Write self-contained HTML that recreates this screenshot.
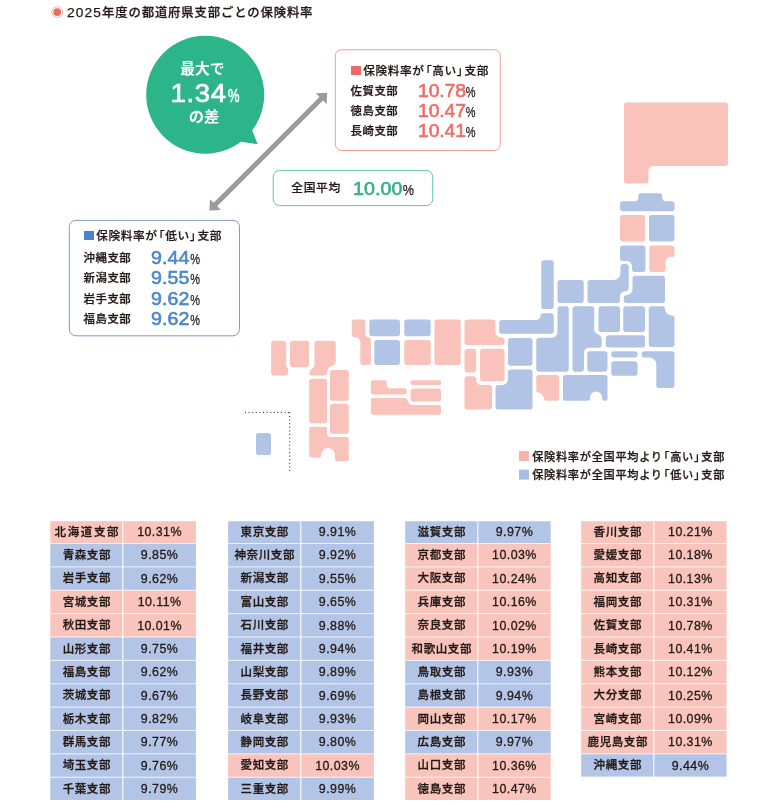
<!DOCTYPE html>
<html lang="ja">
<head>
<meta charset="utf-8">
<title>2025年度の都道府県支部ごとの保険料率</title>
<style>
*{margin:0;padding:0;box-sizing:border-box}
html,body{width:780px;height:809px;background:#fff;overflow:hidden}
body{position:relative;font-family:"Liberation Sans","Noto Sans CJK JP",sans-serif;color:#231815;font-weight:500}
.abs{position:absolute;white-space:nowrap}
#map{position:absolute;left:0;top:0;width:780px;height:809px}
.title{left:67px;top:3px;font-size:12.4px;line-height:20px;color:#231815;-webkit-text-stroke:0.25px #231815}
.td{font-size:13.7px;letter-spacing:1.15px}
.tj{margin-left:0px;letter-spacing:0.82px}
.box{position:absolute;background:#fff;border-radius:6px}
.hd{font-size:11.7px;line-height:16px;letter-spacing:0.6px;-webkit-text-stroke:0.22px #231815}
.lb{font-size:11.4px;line-height:16px;letter-spacing:0.55px;-webkit-text-stroke:0.25px #231815}
.num{font-size:18.3px;line-height:20px;font-weight:400;letter-spacing:0.1px;-webkit-text-stroke:0.6px currentColor;transform:scaleX(1.06);transform-origin:0 50%}
.pc{display:inline-block;font-size:14px;line-height:20px;font-weight:400;color:#231815;letter-spacing:0;-webkit-text-stroke:0.25px #231815;margin-left:0.3px;transform:scaleX(0.74);transform-origin:0 50%}
.c{position:absolute;height:23.4px;font-size:11.5px;line-height:23.4px;letter-spacing:0.6px;text-indent:0.6px;text-align:center;white-space:nowrap;color:#231815;font-weight:500;-webkit-text-stroke:0.28px #231815}
.c.v{font-size:12.4px;font-weight:400;letter-spacing:0.45px;text-indent:0.45px;-webkit-text-stroke:0.3px #231815}
.lg{font-size:11.2px;line-height:16px;letter-spacing:0.7px;-webkit-text-stroke:0.25px #231815}
.bl{margin-left:-0.4em}
.br{margin-right:-0.4em}
</style>
</head>
<body>
<svg id="map" viewBox="0 0 780 809">
<!-- title icon -->
<circle cx="57.2" cy="12.1" r="5.4" fill="none" stroke="#f5b5ad" stroke-width="1"/>
<circle cx="57.2" cy="12.1" r="3.9" fill="#ea6d63"/>
<!-- arrow -->
<g fill="#9b9b9b" stroke="none">
<path d="M327.20,92.80 L315.74,93.37 L319.42,97.04 L213.64,202.82 L209.97,199.14 L209.40,210.60 L220.86,210.03 L217.18,206.36 L322.96,100.58 L326.63,104.26 Z"/>
</g>
<!-- bubble -->
<circle cx="205.2" cy="94.7" r="59" fill="#2db58a"/>
<path d="M236,141 L257.7,144.2 L250.3,125.5 Z" fill="#2db58a"/>
<!-- boxes -->
<rect x="335.3" y="49.8" width="165" height="100.7" rx="6" fill="#fff" stroke="#ef9f98" stroke-width="1"/>
<rect x="273.2" y="170.4" width="159.5" height="35.2" rx="6.5" fill="#fff" stroke="#62c6a4" stroke-width="1"/>
<rect x="69.3" y="220.4" width="170.2" height="115.4" rx="6.5" fill="#fff" stroke="#8199c8" stroke-width="1"/>
<!-- map -->
<path fill="#f9c2ba" d="M624.00,105.00 C624.00,103.62 625.12,102.50 626.50,102.50 L725.50,102.50 C726.88,102.50 728.00,103.62 728.00,105.00 L728.00,163.50 C728.00,164.88 726.88,166.00 725.50,166.00 L653.50,166.00 C650.74,166.00 648.50,168.24 648.50,171.00 L648.50,181.00 C648.50,182.38 647.38,183.50 646.00,183.50 L626.50,183.50 C625.12,183.50 624.00,182.38 624.00,181.00 Z"/>
<path fill="#b2c4e6" d="M622.6,201.2 H634.5 Q638.3,201.2 638.3,197.4 V195.8 Q638.3,193.2 640.9,193.2 H659.6 Q662.2,193.2 662.2,195.8 V197.4 Q662.2,201.2 666,201.2 H671.9 Q674.5,201.2 674.5,203.8 V208.6 Q674.5,211.2 671.9,211.2 H622.6 Q620,211.2 620,208.6 V203.8 Q620,201.2 622.6,201.2 Z"/>
<path fill="#f9c2ba" d="M620.00,217.60 C620.00,216.16 621.16,215.00 622.60,215.00 L642.40,215.00 C643.84,215.00 645.00,216.16 645.00,217.60 L645.00,238.90 C645.00,240.34 643.84,241.50 642.40,241.50 L622.60,241.50 C621.16,241.50 620.00,240.34 620.00,238.90 Z"/>
<path fill="#b2c4e6" d="M649.00,217.60 C649.00,216.16 650.16,215.00 651.60,215.00 L671.90,215.00 C673.34,215.00 674.50,216.16 674.50,217.60 L674.50,238.90 C674.50,240.34 673.34,241.50 671.90,241.50 L651.60,241.50 C650.16,241.50 649.00,240.34 649.00,238.90 Z"/>
<path fill="#b2c4e6" d="M620.00,248.10 C620.00,246.66 621.16,245.50 622.60,245.50 L642.90,245.50 C644.34,245.50 645.50,246.66 645.50,248.10 L645.50,269.40 C645.50,270.84 644.34,272.00 642.90,272.00 L634.60,272.00 C633.16,272.00 632.00,270.84 632.00,269.40 L632.00,266.50 C632.00,263.46 629.54,261.00 626.50,261.00 L622.60,261.00 C621.16,261.00 620.00,259.84 620.00,258.40 Z"/>
<path fill="#f9c2ba" d="M649.25,248.10 C649.25,246.66 650.41,245.50 651.85,245.50 L671.90,245.50 C673.34,245.50 674.50,246.66 674.50,248.10 L674.50,254.40 C674.50,255.84 673.34,257.00 671.90,257.00 L670.50,257.00 C667.74,257.00 665.50,259.24 665.50,262.00 L665.50,269.40 C665.50,270.84 664.34,272.00 662.90,272.00 L651.85,272.00 C650.41,272.00 649.25,270.84 649.25,269.40 Z"/>
<path fill="#b2c4e6" d="M632.50,278.35 C632.50,276.91 633.66,275.75 635.10,275.75 L662.40,275.75 C663.84,275.75 665.00,276.91 665.00,278.35 L665.00,300.40 C665.00,301.84 663.84,303.00 662.40,303.00 L626.35,303.00 C624.91,303.00 623.75,301.84 623.75,300.40 L623.75,297.60 C623.75,296.16 624.91,295.00 626.35,295.00 L626.50,295.00 C629.81,295.00 632.50,292.31 632.50,289.00 Z"/>
<path fill="#b2c4e6" d="M587.50,282.60 C587.50,281.16 588.66,280.00 590.10,280.00 L613.50,280.00 C617.37,280.00 620.50,276.87 620.50,273.00 L620.50,266.60 C620.50,265.16 621.66,264.00 623.10,264.00 L626.15,264.00 C627.59,264.00 628.75,265.16 628.75,266.60 L628.75,288.00 C628.75,289.93 627.18,291.50 625.25,291.50 L625.00,291.50 C622.24,291.50 620.00,293.74 620.00,296.50 L620.00,300.40 C620.00,301.84 618.84,303.00 617.40,303.00 L590.10,303.00 C588.66,303.00 587.50,301.84 587.50,300.40 Z"/>
<path fill="#b2c4e6" d="M557.50,282.60 C557.50,281.16 558.66,280.00 560.10,280.00 L581.15,280.00 C582.59,280.00 583.75,281.16 583.75,282.60 L583.75,300.40 C583.75,301.84 582.59,303.00 581.15,303.00 L560.10,303.00 C558.66,303.00 557.50,301.84 557.50,300.40 Z"/>
<path fill="#b2c4e6" d="M541.25,262.85 C541.25,261.41 542.41,260.25 543.85,260.25 L551.15,260.25 C552.59,260.25 553.75,261.41 553.75,262.85 L553.75,306.40 C553.75,307.84 552.59,309.00 551.15,309.00 L543.85,309.00 C542.41,309.00 541.25,307.84 541.25,306.40 Z"/>
<path fill="#b2c4e6" d="M499.25,322.60 C499.25,321.16 500.41,320.00 501.85,320.00 L536.35,320.00 C538.64,320.00 540.50,318.14 540.50,315.85 L540.50,315.85 C540.50,314.41 541.66,313.25 543.10,313.25 L551.15,313.25 C552.59,313.25 553.75,314.41 553.75,315.85 L553.75,331.15 C553.75,332.59 552.59,333.75 551.15,333.75 L501.85,333.75 C500.41,333.75 499.25,332.59 499.25,331.15 Z"/>
<path fill="#b2c4e6" d="M557.50,308.85 C557.50,307.41 558.66,306.25 560.10,306.25 L566.15,306.25 C567.59,306.25 568.75,307.41 568.75,308.85 L568.75,369.10 C568.75,370.54 567.59,371.70 566.15,371.70 L538.85,371.70 C537.41,371.70 536.25,370.54 536.25,369.10 L536.25,340.35 C536.25,338.91 537.41,337.75 538.85,337.75 L551.50,337.75 C554.81,337.75 557.50,335.06 557.50,331.75 Z"/>
<path fill="#b2c4e6" d="M572.50,308.85 C572.50,307.41 573.66,306.25 575.10,306.25 L591.65,306.25 C593.09,306.25 594.25,307.41 594.25,308.85 L594.25,330.00 C594.25,331.10 595.02,332.46 595.96,333.03 L599.18,334.96 C600.60,335.81 601.75,337.84 601.75,339.50 L601.75,345.15 C601.75,346.59 600.59,347.75 599.15,347.75 L589.00,347.75 C586.24,347.75 584.00,349.99 584.00,352.75 L584.00,369.10 C584.00,370.54 582.84,371.70 581.40,371.70 L575.10,371.70 C573.66,371.70 572.50,370.54 572.50,369.10 Z"/>
<path fill="#b2c4e6" d="M598.50,308.85 C598.50,307.41 599.66,306.25 601.10,306.25 L617.40,306.25 C618.84,306.25 620.00,307.41 620.00,308.85 L620.00,329.40 C620.00,330.84 618.84,332.00 617.40,332.00 L601.10,332.00 C599.66,332.00 598.50,330.84 598.50,329.40 Z"/>
<path fill="#b2c4e6" d="M623.25,308.85 C623.25,307.41 624.41,306.25 625.85,306.25 L642.40,306.25 C643.84,306.25 645.00,307.41 645.00,308.85 L645.00,329.40 C645.00,330.84 643.84,332.00 642.40,332.00 L625.85,332.00 C624.41,332.00 623.25,330.84 623.25,329.40 Z"/>
<path fill="#b2c4e6" d="M648.75,308.85 C648.75,307.41 649.91,306.25 651.35,306.25 L662.80,306.25 C664.02,306.25 665.00,307.23 665.00,308.45 L665.00,308.50 C665.00,312.37 668.13,315.50 672.00,315.50 L672.00,315.50 C673.38,315.50 674.50,316.62 674.50,318.00 L674.50,344.40 C674.50,345.84 673.34,347.00 671.90,347.00 L651.35,347.00 C649.91,347.00 648.75,345.84 648.75,344.40 Z"/>
<path fill="#b2c4e6" d="M605.75,337.85 C605.75,336.41 606.91,335.25 608.35,335.25 L642.40,335.25 C643.84,335.25 645.00,336.41 645.00,337.85 L645.00,344.90 C645.00,346.34 643.84,347.50 642.40,347.50 L608.35,347.50 C606.91,347.50 605.75,346.34 605.75,344.90 Z"/>
<path fill="#b2c4e6" d="M611.25,353.85 C611.25,352.41 612.41,351.25 613.85,351.25 L634.90,351.25 C636.34,351.25 637.50,352.41 637.50,353.85 L637.50,354.90 C637.50,356.34 636.34,357.50 634.90,357.50 L613.85,357.50 C612.41,357.50 611.25,356.34 611.25,354.90 Z"/>
<path fill="#b2c4e6" d="M611.25,363.85 C611.25,362.41 612.41,361.25 613.85,361.25 L634.90,361.25 C636.34,361.25 637.50,362.41 637.50,363.85 L637.50,373.15 C637.50,374.59 636.34,375.75 634.90,375.75 L613.85,375.75 C612.41,375.75 611.25,374.59 611.25,373.15 Z"/>
<path fill="#b2c4e6" d="M587.25,353.85 C587.25,352.41 588.41,351.25 589.85,351.25 L604.90,351.25 C606.34,351.25 607.50,352.41 607.50,353.85 L607.50,369.10 C607.50,370.54 606.34,371.70 604.90,371.70 L589.85,371.70 C588.41,371.70 587.25,370.54 587.25,369.10 Z"/>
<path fill="#b2c4e6" d="M641.50,353.85 C641.50,352.41 642.66,351.25 644.10,351.25 L671.90,351.25 C673.34,351.25 674.50,352.41 674.50,353.85 L674.50,385.40 C674.50,386.84 673.34,388.00 671.90,388.00 L658.90,388.00 C657.46,388.00 656.30,386.84 656.30,385.40 L656.30,364.50 C656.30,360.63 653.17,357.50 649.30,357.50 L644.10,357.50 C642.66,357.50 641.50,356.34 641.50,354.90 Z"/>
<path fill="#b2c4e6" d="M565.6,375 H604.9 Q607.5,375 607.5,377.6 V398.2 Q607.5,400.8 604.9,400.8 H604.2 Q602.2,400.8 602.2,398.8 V397.6 A6.1,6.1 0 0 0 590,397.6 V398.8 Q590,400.8 588,400.8 H565.6 Q563,400.8 563,398.2 V377.6 Q563,375 565.6,375 Z"/>
<path fill="#f9c2ba" d="M538.85,375 H556.65 Q559.25,375 559.25,377.6 V398.2 Q559.25,400.8 556.65,400.8 H546.6 Q544.6,400.8 544.2,398.9 A8,8 0 0 0 538.1,392.6 Q536.25,392.1 536.25,390.2 V377.6 Q536.25,375 538.85,375 Z"/>
<path fill="#b2c4e6" d="M508.00,340.60 C508.00,339.16 509.16,338.00 510.60,338.00 L529.90,338.00 C531.34,338.00 532.50,339.16 532.50,340.60 L532.50,363.15 C532.50,364.59 531.34,365.75 529.90,365.75 L510.60,365.75 C509.16,365.75 508.00,364.59 508.00,363.15 Z"/>
<path fill="#b2c4e6" d="M508.00,372.10 C508.00,370.66 509.16,369.50 510.60,369.50 L529.90,369.50 C531.34,369.50 532.50,370.66 532.50,372.10 L532.50,406.90 C532.50,408.34 531.34,409.50 529.90,409.50 L498.10,409.50 C496.66,409.50 495.50,408.34 495.50,406.90 L495.50,387.60 C495.50,386.16 496.66,385.00 498.10,385.00 L502.00,385.00 C505.31,385.00 508.00,382.31 508.00,379.00 Z"/>
<path fill="#f9c2ba" d="M464.50,322.10 C464.50,320.66 465.66,319.50 467.10,319.50 L492.90,319.50 C494.34,319.50 495.50,320.66 495.50,322.10 L495.50,332.30 C495.50,335.06 497.74,337.30 500.50,337.30 L501.50,337.30 C503.16,337.30 504.50,338.64 504.50,340.30 L504.50,342.40 C504.50,343.84 503.34,345.00 501.90,345.00 L467.10,345.00 C465.66,345.00 464.50,343.84 464.50,342.40 Z"/>
<path fill="#f9c2ba" d="M434.50,322.10 C434.50,320.66 435.66,319.50 437.10,319.50 L458.15,319.50 C459.59,319.50 460.75,320.66 460.75,322.10 L460.75,362.40 C460.75,363.84 459.59,365.00 458.15,365.00 L437.10,365.00 C435.66,365.00 434.50,363.84 434.50,362.40 Z"/>
<path fill="#f9c2ba" d="M464.50,351.35 C464.50,349.91 465.66,348.75 467.10,348.75 L473.65,348.75 C475.09,348.75 476.25,349.91 476.25,351.35 L476.25,369.90 C476.25,371.34 475.09,372.50 473.65,372.50 L467.10,372.50 C465.66,372.50 464.50,371.34 464.50,369.90 Z"/>
<path fill="#f9c2ba" d="M480.00,351.35 C480.00,349.91 481.16,348.75 482.60,348.75 L501.90,348.75 C503.34,348.75 504.50,349.91 504.50,351.35 L504.50,378.65 C504.50,380.09 503.34,381.25 501.90,381.25 L482.60,381.25 C481.16,381.25 480.00,380.09 480.00,378.65 Z"/>
<path fill="#f9c2ba" d="M464.50,378.85 C464.50,377.41 465.66,376.25 467.10,376.25 L473.65,376.25 C475.09,376.25 476.25,377.41 476.25,378.85 L476.25,380.00 C476.25,382.76 478.49,385.00 481.25,385.00 L489.40,385.00 C490.84,385.00 492.00,386.16 492.00,387.60 L492.00,406.90 C492.00,408.34 490.84,409.50 489.40,409.50 L467.10,409.50 C465.66,409.50 464.50,408.34 464.50,406.90 Z"/>
<path fill="#b2c4e6" d="M404.25,322.10 C404.25,320.66 405.41,319.50 406.85,319.50 L428.15,319.50 C429.59,319.50 430.75,320.66 430.75,322.10 L430.75,333.65 C430.75,335.09 429.59,336.25 428.15,336.25 L406.85,336.25 C405.41,336.25 404.25,335.09 404.25,333.65 Z"/>
<path fill="#f9c2ba" d="M404.25,342.60 C404.25,341.16 405.41,340.00 406.85,340.00 L428.15,340.00 C429.59,340.00 430.75,341.16 430.75,342.60 L430.75,362.40 C430.75,363.84 429.59,365.00 428.15,365.00 L406.85,365.00 C405.41,365.00 404.25,363.84 404.25,362.40 Z"/>
<path fill="#b2c4e6" d="M369.25,322.10 C369.25,320.66 370.41,319.50 371.85,319.50 L397.40,319.50 C398.84,319.50 400.00,320.66 400.00,322.10 L400.00,333.65 C400.00,335.09 398.84,336.25 397.40,336.25 L371.85,336.25 C370.41,336.25 369.25,335.09 369.25,333.65 Z"/>
<path fill="#b2c4e6" d="M374.25,342.60 C374.25,341.16 375.41,340.00 376.85,340.00 L397.40,340.00 C398.84,340.00 400.00,341.16 400.00,342.60 L400.00,362.40 C400.00,363.84 398.84,365.00 397.40,365.00 L376.85,365.00 C375.41,365.00 374.25,363.84 374.25,362.40 Z"/>
<path fill="#f9c2ba" d="M351.75,322.10 C351.75,320.66 352.91,319.50 354.35,319.50 L362.70,319.50 C364.14,319.50 365.30,320.66 365.30,322.10 L365.30,334.25 C365.30,335.77 366.53,337.00 368.05,337.00 L368.05,337.00 C369.57,337.00 370.80,338.23 370.80,339.75 L370.80,362.40 C370.80,363.84 369.64,365.00 368.20,365.00 L362.90,365.00 C361.46,365.00 360.30,363.84 360.30,362.40 L360.30,341.80 C360.30,339.31 358.29,337.30 355.80,337.30 L355.25,337.30 C353.32,337.30 351.75,335.73 351.75,333.80 Z"/>
<path fill="#f9c2ba" d="M371.00,382.20 C371.00,381.10 371.90,380.20 373.00,380.20 L384.70,380.20 C385.80,380.20 386.70,381.10 386.70,382.20 L386.70,384.70 C386.70,386.63 388.27,388.20 390.20,388.20 L404.80,388.20 C405.90,388.20 406.80,389.10 406.80,390.20 L406.80,392.50 C406.80,393.60 405.90,394.50 404.80,394.50 L373.00,394.50 C371.90,394.50 371.00,393.60 371.00,392.50 Z"/>
<path fill="#f9c2ba" d="M410.60,382.00 C410.60,381.01 411.41,380.20 412.40,380.20 L439.20,380.20 C440.19,380.20 441.00,381.01 441.00,382.00 L441.00,383.20 C441.00,384.19 440.19,385.00 439.20,385.00 L412.40,385.00 C411.41,385.00 410.60,384.19 410.60,383.20 Z"/>
<path fill="#f9c2ba" d="M410.60,391.20 C410.60,389.76 411.76,388.60 413.20,388.60 L438.40,388.60 C439.84,388.60 441.00,389.76 441.00,391.20 L441.00,399.00 C441.00,400.44 439.84,401.60 438.40,401.60 L413.20,401.60 C411.76,401.60 410.60,400.44 410.60,399.00 Z"/>
<path fill="#f9c2ba" d="M371.00,400.10 C371.00,399.00 371.90,398.10 373.00,398.10 L404.40,398.10 C405.50,398.10 406.81,398.90 407.31,399.88 L409.09,403.32 C409.59,404.30 410.90,405.10 412.00,405.10 L439.00,405.10 C440.10,405.10 441.00,406.00 441.00,407.10 L441.00,412.70 C441.00,413.80 440.10,414.70 439.00,414.70 L373.00,414.70 C371.90,414.70 371.00,413.80 371.00,412.70 Z"/>
<path fill="#f9c2ba" d="M271.20,343.35 C271.20,341.91 272.36,340.75 273.80,340.75 L283.60,340.75 C285.04,340.75 286.20,341.91 286.20,343.35 L286.20,365.09 C286.20,365.87 286.65,366.95 287.20,367.50 L287.20,367.50 C287.75,368.05 288.20,369.13 288.20,369.91 L288.20,373.00 C288.20,374.44 287.04,375.60 285.60,375.60 L273.80,375.60 C272.36,375.60 271.20,374.44 271.20,373.00 Z"/>
<path fill="#f9c2ba" d="M289.90,343.35 C289.90,341.91 291.06,340.75 292.50,340.75 L306.50,340.75 C307.94,340.75 309.10,341.91 309.10,343.35 L309.10,364.60 C309.10,366.04 307.94,367.20 306.50,367.20 L292.50,367.20 C291.06,367.20 289.90,366.04 289.90,364.60 Z"/>
<path fill="#f9c2ba" d="M314.50,342.95 C314.50,341.73 315.48,340.75 316.70,340.75 L333.55,340.75 C334.77,340.75 335.75,341.73 335.75,342.95 L335.75,361.80 C335.75,363.02 334.87,364.45 333.80,365.01 L329.95,366.99 C328.88,367.55 327.81,368.97 327.57,370.16 L326.93,373.34 C326.69,374.53 325.52,375.50 324.30,375.50 L311.45,375.50 C310.23,375.50 309.25,374.52 309.25,373.30 L309.25,373.20 C309.25,371.98 310.03,370.40 311.00,369.67 L312.75,368.33 C313.72,367.60 314.50,366.02 314.50,364.80 Z"/>
<path fill="#f9c2ba" d="M330.00,372.60 C330.00,371.16 331.16,370.00 332.60,370.00 L346.15,370.00 C347.59,370.00 348.75,371.16 348.75,372.60 L348.75,398.15 C348.75,399.59 347.59,400.75 346.15,400.75 L332.60,400.75 C331.16,400.75 330.00,399.59 330.00,398.15 Z"/>
<path fill="#f9c2ba" d="M309.25,381.35 C309.25,379.91 310.41,378.75 311.85,378.75 L324.40,378.75 C325.84,378.75 327.00,379.91 327.00,381.35 L327.00,420.65 C327.00,422.09 325.84,423.25 324.40,423.25 L311.85,423.25 C310.41,423.25 309.25,422.09 309.25,420.65 Z"/>
<path fill="#f9c2ba" d="M330.00,406.35 C330.00,404.91 331.16,403.75 332.60,403.75 L346.15,403.75 C347.59,403.75 348.75,404.91 348.75,406.35 L348.75,431.15 C348.75,432.59 347.59,433.75 346.15,433.75 L332.60,433.75 C331.16,433.75 330.00,432.59 330.00,431.15 Z"/>
<path fill="#f9c2ba" d="M311.25,426.75 H325 Q327,426.75 327,428.75 V433 Q327,437 331,437 H346.75 Q348.75,437 348.75,439 V459.25 Q348.75,461.25 346.75,461.25 H337 Q335,461.25 335,459.25 V454.4 A6.9,6.9 0 0 0 321.25,454.4 V455.5 Q321.25,457.5 319.25,457.5 H311.25 Q309.25,457.5 309.25,455.5 V428.75 Q309.25,426.75 311.25,426.75 Z"/>
<path fill="#b2c4e6" d="M256.00,435.60 C256.00,434.16 257.16,433.00 258.60,433.00 L268.40,433.00 C269.84,433.00 271.00,434.16 271.00,435.60 L271.00,452.40 C271.00,453.84 269.84,455.00 268.40,455.00 L258.60,455.00 C257.16,455.00 256.00,453.84 256.00,452.40 Z"/>
<!-- dotted -->
<line x1="245" y1="412.4" x2="290" y2="412.4" stroke="#231815" stroke-width="1" stroke-dasharray="1 2.6"/>
<line x1="289.7" y1="412.4" x2="289.7" y2="472" stroke="#231815" stroke-width="1" stroke-dasharray="1 2.6"/>
<!-- tables -->
<rect x="50.30" y="521.25" width="145.60" height="22.57" fill="#f9c4bb"/>
<rect x="50.30" y="543.52" width="145.60" height="23.67" fill="#b3c5e6"/>
<rect x="50.30" y="566.89" width="145.60" height="23.67" fill="#b3c5e6"/>
<rect x="50.30" y="590.26" width="145.60" height="23.67" fill="#f9c4bb"/>
<rect x="50.30" y="613.63" width="145.60" height="23.67" fill="#f9c4bb"/>
<rect x="50.30" y="637.00" width="145.60" height="23.67" fill="#b3c5e6"/>
<rect x="50.30" y="660.37" width="145.60" height="23.67" fill="#b3c5e6"/>
<rect x="50.30" y="683.74" width="145.60" height="23.67" fill="#b3c5e6"/>
<rect x="50.30" y="707.11" width="145.60" height="23.67" fill="#b3c5e6"/>
<rect x="50.30" y="730.48" width="145.60" height="23.67" fill="#b3c5e6"/>
<rect x="50.30" y="753.85" width="145.60" height="23.67" fill="#b3c5e6"/>
<rect x="50.30" y="777.22" width="145.60" height="22.77" fill="#b3c5e6"/>
<line x1="50.30" y1="543.52" x2="195.90" y2="543.52" stroke="#fff" stroke-width="1.0" stroke-opacity="0.8"/>
<line x1="50.30" y1="566.89" x2="195.90" y2="566.89" stroke="#fff" stroke-width="1.0" stroke-opacity="0.8"/>
<line x1="50.30" y1="590.26" x2="195.90" y2="590.26" stroke="#fff" stroke-width="1.0" stroke-opacity="0.8"/>
<line x1="50.30" y1="613.63" x2="195.90" y2="613.63" stroke="#fff" stroke-width="1.0" stroke-opacity="0.8"/>
<line x1="50.30" y1="637.00" x2="195.90" y2="637.00" stroke="#fff" stroke-width="1.0" stroke-opacity="0.8"/>
<line x1="50.30" y1="660.37" x2="195.90" y2="660.37" stroke="#fff" stroke-width="1.0" stroke-opacity="0.8"/>
<line x1="50.30" y1="683.74" x2="195.90" y2="683.74" stroke="#fff" stroke-width="1.0" stroke-opacity="0.8"/>
<line x1="50.30" y1="707.11" x2="195.90" y2="707.11" stroke="#fff" stroke-width="1.0" stroke-opacity="0.8"/>
<line x1="50.30" y1="730.48" x2="195.90" y2="730.48" stroke="#fff" stroke-width="1.0" stroke-opacity="0.8"/>
<line x1="50.30" y1="753.85" x2="195.90" y2="753.85" stroke="#fff" stroke-width="1.0" stroke-opacity="0.8"/>
<line x1="50.30" y1="777.22" x2="195.90" y2="777.22" stroke="#fff" stroke-width="1.0" stroke-opacity="0.8"/>
<line x1="122.80" y1="520.15" x2="122.80" y2="800.59" stroke="#fff" stroke-width="1.3" stroke-opacity="0.85"/>
<rect x="228.10" y="521.25" width="145.80" height="22.57" fill="#b3c5e6"/>
<rect x="228.10" y="543.52" width="145.80" height="23.67" fill="#b3c5e6"/>
<rect x="228.10" y="566.89" width="145.80" height="23.67" fill="#b3c5e6"/>
<rect x="228.10" y="590.26" width="145.80" height="23.67" fill="#b3c5e6"/>
<rect x="228.10" y="613.63" width="145.80" height="23.67" fill="#b3c5e6"/>
<rect x="228.10" y="637.00" width="145.80" height="23.67" fill="#b3c5e6"/>
<rect x="228.10" y="660.37" width="145.80" height="23.67" fill="#b3c5e6"/>
<rect x="228.10" y="683.74" width="145.80" height="23.67" fill="#b3c5e6"/>
<rect x="228.10" y="707.11" width="145.80" height="23.67" fill="#b3c5e6"/>
<rect x="228.10" y="730.48" width="145.80" height="23.67" fill="#b3c5e6"/>
<rect x="228.10" y="753.85" width="145.80" height="23.67" fill="#f9c4bb"/>
<rect x="228.10" y="777.22" width="145.80" height="22.77" fill="#b3c5e6"/>
<line x1="228.10" y1="543.52" x2="373.90" y2="543.52" stroke="#fff" stroke-width="1.0" stroke-opacity="0.8"/>
<line x1="228.10" y1="566.89" x2="373.90" y2="566.89" stroke="#fff" stroke-width="1.0" stroke-opacity="0.8"/>
<line x1="228.10" y1="590.26" x2="373.90" y2="590.26" stroke="#fff" stroke-width="1.0" stroke-opacity="0.8"/>
<line x1="228.10" y1="613.63" x2="373.90" y2="613.63" stroke="#fff" stroke-width="1.0" stroke-opacity="0.8"/>
<line x1="228.10" y1="637.00" x2="373.90" y2="637.00" stroke="#fff" stroke-width="1.0" stroke-opacity="0.8"/>
<line x1="228.10" y1="660.37" x2="373.90" y2="660.37" stroke="#fff" stroke-width="1.0" stroke-opacity="0.8"/>
<line x1="228.10" y1="683.74" x2="373.90" y2="683.74" stroke="#fff" stroke-width="1.0" stroke-opacity="0.8"/>
<line x1="228.10" y1="707.11" x2="373.90" y2="707.11" stroke="#fff" stroke-width="1.0" stroke-opacity="0.8"/>
<line x1="228.10" y1="730.48" x2="373.90" y2="730.48" stroke="#fff" stroke-width="1.0" stroke-opacity="0.8"/>
<line x1="228.10" y1="753.85" x2="373.90" y2="753.85" stroke="#fff" stroke-width="1.0" stroke-opacity="0.8"/>
<line x1="228.10" y1="777.22" x2="373.90" y2="777.22" stroke="#fff" stroke-width="1.0" stroke-opacity="0.8"/>
<line x1="300.80" y1="520.15" x2="300.80" y2="800.59" stroke="#fff" stroke-width="1.3" stroke-opacity="0.85"/>
<rect x="405.20" y="521.25" width="145.50" height="22.57" fill="#b3c5e6"/>
<rect x="405.20" y="543.52" width="145.50" height="23.67" fill="#f9c4bb"/>
<rect x="405.20" y="566.89" width="145.50" height="23.67" fill="#f9c4bb"/>
<rect x="405.20" y="590.26" width="145.50" height="23.67" fill="#f9c4bb"/>
<rect x="405.20" y="613.63" width="145.50" height="23.67" fill="#f9c4bb"/>
<rect x="405.20" y="637.00" width="145.50" height="23.67" fill="#f9c4bb"/>
<rect x="405.20" y="660.37" width="145.50" height="23.67" fill="#b3c5e6"/>
<rect x="405.20" y="683.74" width="145.50" height="23.67" fill="#b3c5e6"/>
<rect x="405.20" y="707.11" width="145.50" height="23.67" fill="#f9c4bb"/>
<rect x="405.20" y="730.48" width="145.50" height="23.67" fill="#b3c5e6"/>
<rect x="405.20" y="753.85" width="145.50" height="23.67" fill="#f9c4bb"/>
<rect x="405.20" y="777.22" width="145.50" height="22.77" fill="#f9c4bb"/>
<line x1="405.20" y1="543.52" x2="550.70" y2="543.52" stroke="#fff" stroke-width="1.0" stroke-opacity="0.8"/>
<line x1="405.20" y1="566.89" x2="550.70" y2="566.89" stroke="#fff" stroke-width="1.0" stroke-opacity="0.8"/>
<line x1="405.20" y1="590.26" x2="550.70" y2="590.26" stroke="#fff" stroke-width="1.0" stroke-opacity="0.8"/>
<line x1="405.20" y1="613.63" x2="550.70" y2="613.63" stroke="#fff" stroke-width="1.0" stroke-opacity="0.8"/>
<line x1="405.20" y1="637.00" x2="550.70" y2="637.00" stroke="#fff" stroke-width="1.0" stroke-opacity="0.8"/>
<line x1="405.20" y1="660.37" x2="550.70" y2="660.37" stroke="#fff" stroke-width="1.0" stroke-opacity="0.8"/>
<line x1="405.20" y1="683.74" x2="550.70" y2="683.74" stroke="#fff" stroke-width="1.0" stroke-opacity="0.8"/>
<line x1="405.20" y1="707.11" x2="550.70" y2="707.11" stroke="#fff" stroke-width="1.0" stroke-opacity="0.8"/>
<line x1="405.20" y1="730.48" x2="550.70" y2="730.48" stroke="#fff" stroke-width="1.0" stroke-opacity="0.8"/>
<line x1="405.20" y1="753.85" x2="550.70" y2="753.85" stroke="#fff" stroke-width="1.0" stroke-opacity="0.8"/>
<line x1="405.20" y1="777.22" x2="550.70" y2="777.22" stroke="#fff" stroke-width="1.0" stroke-opacity="0.8"/>
<line x1="477.80" y1="520.15" x2="477.80" y2="800.59" stroke="#fff" stroke-width="1.3" stroke-opacity="0.85"/>
<rect x="581.20" y="521.25" width="145.40" height="22.57" fill="#f9c4bb"/>
<rect x="581.20" y="543.52" width="145.40" height="23.67" fill="#f9c4bb"/>
<rect x="581.20" y="566.89" width="145.40" height="23.67" fill="#f9c4bb"/>
<rect x="581.20" y="590.26" width="145.40" height="23.67" fill="#f9c4bb"/>
<rect x="581.20" y="613.63" width="145.40" height="23.67" fill="#f9c4bb"/>
<rect x="581.20" y="637.00" width="145.40" height="23.67" fill="#f9c4bb"/>
<rect x="581.20" y="660.37" width="145.40" height="23.67" fill="#f9c4bb"/>
<rect x="581.20" y="683.74" width="145.40" height="23.67" fill="#f9c4bb"/>
<rect x="581.20" y="707.11" width="145.40" height="23.67" fill="#f9c4bb"/>
<rect x="581.20" y="730.48" width="145.40" height="23.67" fill="#f9c4bb"/>
<rect x="581.20" y="753.85" width="145.40" height="22.77" fill="#b3c5e6"/>
<line x1="581.20" y1="543.52" x2="726.60" y2="543.52" stroke="#fff" stroke-width="1.0" stroke-opacity="0.8"/>
<line x1="581.20" y1="566.89" x2="726.60" y2="566.89" stroke="#fff" stroke-width="1.0" stroke-opacity="0.8"/>
<line x1="581.20" y1="590.26" x2="726.60" y2="590.26" stroke="#fff" stroke-width="1.0" stroke-opacity="0.8"/>
<line x1="581.20" y1="613.63" x2="726.60" y2="613.63" stroke="#fff" stroke-width="1.0" stroke-opacity="0.8"/>
<line x1="581.20" y1="637.00" x2="726.60" y2="637.00" stroke="#fff" stroke-width="1.0" stroke-opacity="0.8"/>
<line x1="581.20" y1="660.37" x2="726.60" y2="660.37" stroke="#fff" stroke-width="1.0" stroke-opacity="0.8"/>
<line x1="581.20" y1="683.74" x2="726.60" y2="683.74" stroke="#fff" stroke-width="1.0" stroke-opacity="0.8"/>
<line x1="581.20" y1="707.11" x2="726.60" y2="707.11" stroke="#fff" stroke-width="1.0" stroke-opacity="0.8"/>
<line x1="581.20" y1="730.48" x2="726.60" y2="730.48" stroke="#fff" stroke-width="1.0" stroke-opacity="0.8"/>
<line x1="581.20" y1="753.85" x2="726.60" y2="753.85" stroke="#fff" stroke-width="1.0" stroke-opacity="0.8"/>
<line x1="653.80" y1="520.15" x2="653.80" y2="777.22" stroke="#fff" stroke-width="1.3" stroke-opacity="0.85"/>
<!-- legend squares -->
<rect x="519" y="451.1" width="9.9" height="9.9" fill="#f7b3a9"/>
<rect x="519" y="469.7" width="9.9" height="9.9" fill="#a9bbe1"/>
</svg>

<div class="abs title"><span class="td">2025</span><span class="tj">年度の都道府県支部ごとの保険料率</span></div>

<!-- bubble text -->
<div class="abs" style="left:143.3px;width:118px;top:58px;text-align:center;color:#fff;font-weight:700;font-size:14.7px;line-height:22px">最大で</div>
<div class="abs" style="left:147.3px;width:118px;top:77.6px;text-align:center;color:#fff;font-weight:400;font-size:25px;line-height:30px"><span style="display:inline-block;transform:scaleX(1.1);letter-spacing:0.6px;-webkit-text-stroke:0.7px #fff">1.34</span><span style="display:inline-block;font-size:18px;font-weight:400;-webkit-text-stroke:0.5px #fff;transform:scaleX(0.72);transform-origin:0 50%;margin-left:3.6px;margin-right:-4px">%</span></div>
<div class="abs" style="left:145px;width:118px;top:105.6px;text-align:center;color:#fff;font-weight:700;font-size:15.3px;line-height:22px">の差</div>

<!-- high box -->
<div class="abs" style="left:350.5px;top:65.8px;width:10px;height:9.6px;background:#ee6864"></div>
<div class="abs hd" style="left:363.2px;top:62.8px">保険料率が<span class="bl">「</span>高い<span class="br">」</span>支部</div>
<div class="abs lb" style="left:350.5px;top:83.0px">佐賀支部</div>
<div class="abs lb" style="left:350.5px;top:103.0px">徳島支部</div>
<div class="abs lb" style="left:350.5px;top:123.0px">長崎支部</div>
<div class="abs num" style="left:417.5px;top:80.6px;color:#ea6f68;letter-spacing:-0.1px">10.78<span class="pc" style="margin-left:-0.5px">%</span></div>
<div class="abs num" style="left:417.5px;top:100.6px;color:#ea6f68;letter-spacing:-0.1px">10.47<span class="pc" style="margin-left:-0.5px">%</span></div>
<div class="abs num" style="left:417.5px;top:120.6px;color:#ea6f68;letter-spacing:-0.1px">10.41<span class="pc" style="margin-left:-0.5px">%</span></div>

<!-- avg box -->
<div class="abs lb" style="left:291.3px;top:180.3px;font-size:11.8px;letter-spacing:0.6px;-webkit-text-stroke:0.2px #231815">全国平均</div>
<div class="abs num" style="left:353px;top:178.6px;color:#2fb088;font-size:18.5px">10.00<span class="pc" style="transform:scaleX(0.85);margin-left:0px">%</span></div>

<!-- low box -->
<div class="abs" style="left:84.2px;top:230.5px;width:10px;height:9.8px;background:#4a82cc"></div>
<div class="abs hd" style="left:96.2px;top:227.8px">保険料率が<span class="bl">「</span>低い<span class="br">」</span>支部</div>
<div class="abs lb" style="left:83.5px;top:249.5px">沖縄支部</div>
<div class="abs lb" style="left:83.5px;top:269.5px">新潟支部</div>
<div class="abs lb" style="left:83.5px;top:290.5px">岩手支部</div>
<div class="abs lb" style="left:83.5px;top:310.5px">福島支部</div>
<div class="abs num" style="left:151px;top:247.6px;color:#4a87c9;font-size:18.5px">9.44<span class="pc">%</span></div>
<div class="abs num" style="left:151px;top:267.6px;color:#4a87c9;font-size:18.5px">9.55<span class="pc">%</span></div>
<div class="abs num" style="left:151px;top:288.6px;color:#4a87c9;font-size:18.5px">9.62<span class="pc">%</span></div>
<div class="abs num" style="left:151px;top:308.6px;color:#4a87c9;font-size:18.5px">9.62<span class="pc">%</span></div>

<!-- legend -->
<div class="abs lg" style="left:532.2px;top:449px">保険料率が全国平均より<span class="bl">「</span>高い<span class="br">」</span>支部</div>
<div class="abs lg" style="left:532.2px;top:467.3px">保険料率が全国平均より<span class="bl">「</span>低い<span class="br">」</span>支部</div>

<!-- tables -->
<div class="c" style="left:50.3px;top:520.65px;width:72.5px;letter-spacing:1.6px;text-indent:1.6px">北海道支部</div>
<div class="c v" style="left:122.8px;top:521.05px;width:73.1px">10.31%</div>
<div class="c" style="left:50.3px;top:544.02px;width:72.5px">青森支部</div>
<div class="c v" style="left:122.8px;top:544.42px;width:73.1px">9.85%</div>
<div class="c" style="left:50.3px;top:567.39px;width:72.5px">岩手支部</div>
<div class="c v" style="left:122.8px;top:567.79px;width:73.1px">9.62%</div>
<div class="c" style="left:50.3px;top:590.76px;width:72.5px">宮城支部</div>
<div class="c v" style="left:122.8px;top:591.16px;width:73.1px">10.11%</div>
<div class="c" style="left:50.3px;top:614.13px;width:72.5px">秋田支部</div>
<div class="c v" style="left:122.8px;top:614.53px;width:73.1px">10.01%</div>
<div class="c" style="left:50.3px;top:637.50px;width:72.5px">山形支部</div>
<div class="c v" style="left:122.8px;top:637.90px;width:73.1px">9.75%</div>
<div class="c" style="left:50.3px;top:660.87px;width:72.5px">福島支部</div>
<div class="c v" style="left:122.8px;top:661.27px;width:73.1px">9.62%</div>
<div class="c" style="left:50.3px;top:684.24px;width:72.5px">茨城支部</div>
<div class="c v" style="left:122.8px;top:684.64px;width:73.1px">9.67%</div>
<div class="c" style="left:50.3px;top:707.61px;width:72.5px">栃木支部</div>
<div class="c v" style="left:122.8px;top:708.01px;width:73.1px">9.82%</div>
<div class="c" style="left:50.3px;top:730.98px;width:72.5px">群馬支部</div>
<div class="c v" style="left:122.8px;top:731.38px;width:73.1px">9.77%</div>
<div class="c" style="left:50.3px;top:754.35px;width:72.5px">埼玉支部</div>
<div class="c v" style="left:122.8px;top:754.75px;width:73.1px">9.76%</div>
<div class="c" style="left:50.3px;top:777.72px;width:72.5px">千葉支部</div>
<div class="c v" style="left:122.8px;top:778.12px;width:73.1px">9.79%</div>
<div class="c" style="left:228.1px;top:520.65px;width:72.7px">東京支部</div>
<div class="c v" style="left:300.8px;top:521.05px;width:73.1px">9.91%</div>
<div class="c" style="left:228.1px;top:544.02px;width:72.7px">神奈川支部</div>
<div class="c v" style="left:300.8px;top:544.42px;width:73.1px">9.92%</div>
<div class="c" style="left:228.1px;top:567.39px;width:72.7px">新潟支部</div>
<div class="c v" style="left:300.8px;top:567.79px;width:73.1px">9.55%</div>
<div class="c" style="left:228.1px;top:590.76px;width:72.7px">富山支部</div>
<div class="c v" style="left:300.8px;top:591.16px;width:73.1px">9.65%</div>
<div class="c" style="left:228.1px;top:614.13px;width:72.7px">石川支部</div>
<div class="c v" style="left:300.8px;top:614.53px;width:73.1px">9.88%</div>
<div class="c" style="left:228.1px;top:637.50px;width:72.7px">福井支部</div>
<div class="c v" style="left:300.8px;top:637.90px;width:73.1px">9.94%</div>
<div class="c" style="left:228.1px;top:660.87px;width:72.7px">山梨支部</div>
<div class="c v" style="left:300.8px;top:661.27px;width:73.1px">9.89%</div>
<div class="c" style="left:228.1px;top:684.24px;width:72.7px">長野支部</div>
<div class="c v" style="left:300.8px;top:684.64px;width:73.1px">9.69%</div>
<div class="c" style="left:228.1px;top:707.61px;width:72.7px">岐阜支部</div>
<div class="c v" style="left:300.8px;top:708.01px;width:73.1px">9.93%</div>
<div class="c" style="left:228.1px;top:730.98px;width:72.7px">静岡支部</div>
<div class="c v" style="left:300.8px;top:731.38px;width:73.1px">9.80%</div>
<div class="c" style="left:228.1px;top:754.35px;width:72.7px">愛知支部</div>
<div class="c v" style="left:300.8px;top:754.75px;width:73.1px">10.03%</div>
<div class="c" style="left:228.1px;top:777.72px;width:72.7px">三重支部</div>
<div class="c v" style="left:300.8px;top:778.12px;width:73.1px">9.99%</div>
<div class="c" style="left:405.2px;top:520.65px;width:72.6px">滋賀支部</div>
<div class="c v" style="left:477.8px;top:521.05px;width:72.9px">9.97%</div>
<div class="c" style="left:405.2px;top:544.02px;width:72.6px">京都支部</div>
<div class="c v" style="left:477.8px;top:544.42px;width:72.9px">10.03%</div>
<div class="c" style="left:405.2px;top:567.39px;width:72.6px">大阪支部</div>
<div class="c v" style="left:477.8px;top:567.79px;width:72.9px">10.24%</div>
<div class="c" style="left:405.2px;top:590.76px;width:72.6px">兵庫支部</div>
<div class="c v" style="left:477.8px;top:591.16px;width:72.9px">10.16%</div>
<div class="c" style="left:405.2px;top:614.13px;width:72.6px">奈良支部</div>
<div class="c v" style="left:477.8px;top:614.53px;width:72.9px">10.02%</div>
<div class="c" style="left:405.2px;top:637.50px;width:72.6px">和歌山支部</div>
<div class="c v" style="left:477.8px;top:637.90px;width:72.9px">10.19%</div>
<div class="c" style="left:405.2px;top:660.87px;width:72.6px">鳥取支部</div>
<div class="c v" style="left:477.8px;top:661.27px;width:72.9px">9.93%</div>
<div class="c" style="left:405.2px;top:684.24px;width:72.6px">島根支部</div>
<div class="c v" style="left:477.8px;top:684.64px;width:72.9px">9.94%</div>
<div class="c" style="left:405.2px;top:707.61px;width:72.6px">岡山支部</div>
<div class="c v" style="left:477.8px;top:708.01px;width:72.9px">10.17%</div>
<div class="c" style="left:405.2px;top:730.98px;width:72.6px">広島支部</div>
<div class="c v" style="left:477.8px;top:731.38px;width:72.9px">9.97%</div>
<div class="c" style="left:405.2px;top:754.35px;width:72.6px">山口支部</div>
<div class="c v" style="left:477.8px;top:754.75px;width:72.9px">10.36%</div>
<div class="c" style="left:405.2px;top:777.72px;width:72.6px">徳島支部</div>
<div class="c v" style="left:477.8px;top:778.12px;width:72.9px">10.47%</div>
<div class="c" style="left:581.2px;top:520.65px;width:72.6px">香川支部</div>
<div class="c v" style="left:653.8px;top:521.05px;width:72.8px">10.21%</div>
<div class="c" style="left:581.2px;top:544.02px;width:72.6px">愛媛支部</div>
<div class="c v" style="left:653.8px;top:544.42px;width:72.8px">10.18%</div>
<div class="c" style="left:581.2px;top:567.39px;width:72.6px">高知支部</div>
<div class="c v" style="left:653.8px;top:567.79px;width:72.8px">10.13%</div>
<div class="c" style="left:581.2px;top:590.76px;width:72.6px">福岡支部</div>
<div class="c v" style="left:653.8px;top:591.16px;width:72.8px">10.31%</div>
<div class="c" style="left:581.2px;top:614.13px;width:72.6px">佐賀支部</div>
<div class="c v" style="left:653.8px;top:614.53px;width:72.8px">10.78%</div>
<div class="c" style="left:581.2px;top:637.50px;width:72.6px">長崎支部</div>
<div class="c v" style="left:653.8px;top:637.90px;width:72.8px">10.41%</div>
<div class="c" style="left:581.2px;top:660.87px;width:72.6px">熊本支部</div>
<div class="c v" style="left:653.8px;top:661.27px;width:72.8px">10.12%</div>
<div class="c" style="left:581.2px;top:684.24px;width:72.6px">大分支部</div>
<div class="c v" style="left:653.8px;top:684.64px;width:72.8px">10.25%</div>
<div class="c" style="left:581.2px;top:707.61px;width:72.6px">宮崎支部</div>
<div class="c v" style="left:653.8px;top:708.01px;width:72.8px">10.09%</div>
<div class="c" style="left:581.2px;top:730.98px;width:72.6px">鹿児島支部</div>
<div class="c v" style="left:653.8px;top:731.38px;width:72.8px">10.31%</div>
<div class="c" style="left:581.2px;top:754.35px;width:72.6px">沖縄支部</div>
<div class="c v" style="left:653.8px;top:754.75px;width:72.8px">9.44%</div>
</body>
</html>
